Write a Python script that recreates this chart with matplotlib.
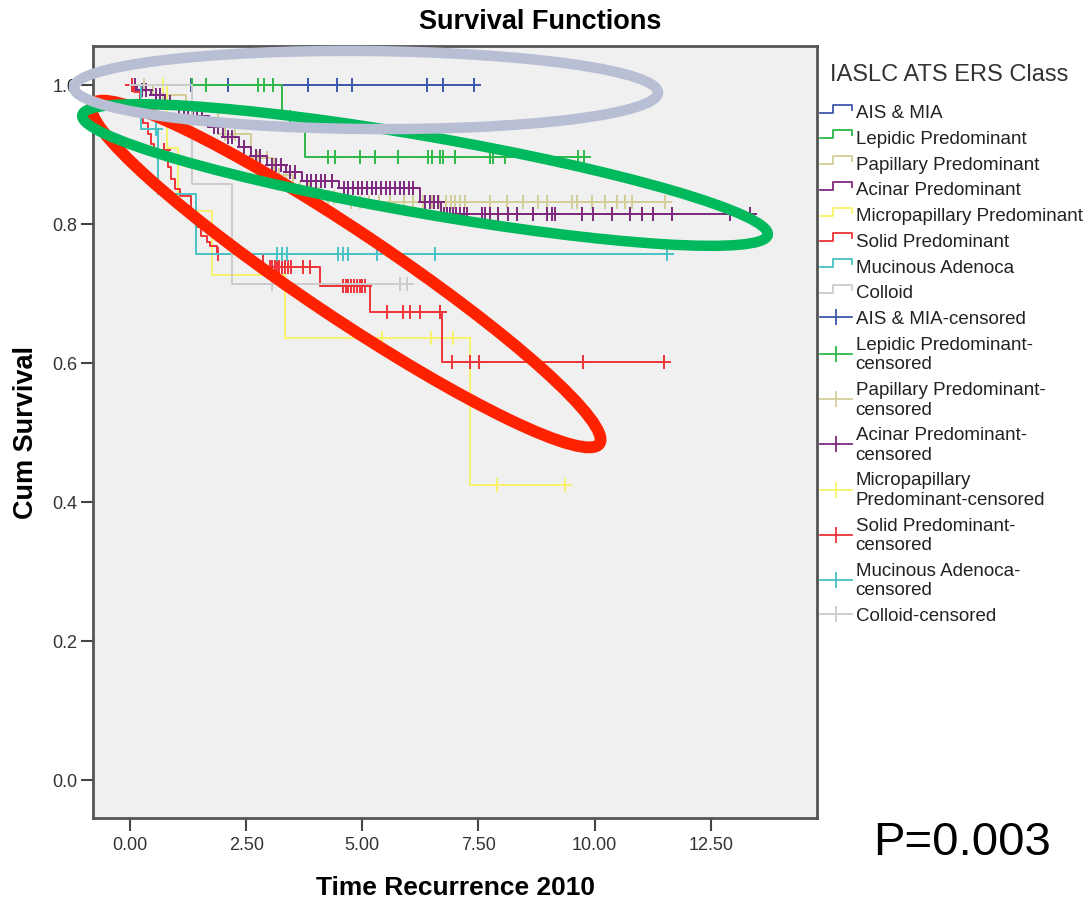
import numpy as np
import matplotlib
matplotlib.use("Agg")
import matplotlib.pyplot as plt
from matplotlib.lines import Line2D
from matplotlib.patches import Ellipse
from matplotlib.legend_handler import HandlerBase

plt.rcParams['font.family'] = ['Liberation Sans', 'DejaVu Sans']

# Kaplan-Meier curves: step times (years), survival after each step,
# and censoring times
groups = ['AIS & MIA', 'Lepidic Predominant', 'Papillary Predominant', 'Acinar Predominant',
          'Micropapillary Predominant', 'Solid Predominant', 'Mucinous Adenoca', 'Colloid']
cens_labels = ['AIS & MIA-censored', 'Lepidic Predominant-\ncensored',
               'Papillary Predominant-\ncensored', 'Acinar Predominant-\ncensored',
               'Micropapillary\nPredominant-censored', 'Solid Predominant-\ncensored',
               'Mucinous Adenoca-\ncensored', 'Colloid-censored']
colors = ['#3e58ac', '#2eb848', '#d3ce97', '#7c287d', '#f8f36a', '#ef3338', '#48c2c5', '#cccccc']

ais_times = [0.0]
ais_surv = [1.0]
ais_cens = [1.3, 2.1, 3.83, 4.46, 4.78, 6.39, 6.74, 7.40]

lep_times = [0.0, 3.27, 3.77]
lep_surv = [1.0, 0.954, 0.896]
lep_cens = [1.33, 1.64, 2.76, 2.89, 3.08, 3.44, 4.26, 4.41, 4.95, 5.27, 5.77, 6.41, 6.50,
            6.67, 6.74, 7.00, 7.75, 7.81, 8.07, 9.64, 9.78]

pap_times = [0.0, 0.5, 1.2, 1.9, 2.6, 3.1, 3.5, 4.1, 4.6]
pap_surv = [1.0, 0.985, 0.965, 0.93, 0.895, 0.87, 0.852, 0.838, 0.832]
pap_cens = [0.3, 0.7, 1.35, 1.55, 2.05, 2.25, 2.75, 2.95, 3.2, 3.35, 3.65, 3.85, 4.25, 4.4,
            4.75, 4.95, 5.15, 5.35, 5.6, 5.9, 6.1, 6.3, 6.5, 6.65, 6.8, 6.9, 7.0, 7.1, 7.2,
            7.75, 8.11, 8.46, 8.78, 8.97, 9.51, 9.62, 9.94, 10.22, 10.48, 10.65, 10.80, 11.51]

aci_times = [0.0, 0.15, 0.45, 0.75, 0.95, 1.45, 1.70, 2.00, 2.35, 2.60, 2.95, 3.35, 3.70,
             4.50, 6.25, 6.70]
aci_surv = [1.0, 0.993, 0.985, 0.975, 0.965, 0.955, 0.940, 0.925, 0.910, 0.897, 0.885, 0.875,
            0.861, 0.852, 0.832, 0.814]
aci_cens = [0.05, 0.1, 0.25, 0.35, 0.55, 0.65, 0.85, 1.05, 1.15, 1.25, 1.35, 1.55, 1.8, 1.9,
            2.1, 2.2, 2.45, 2.7, 2.8, 3.05, 3.15, 3.25, 3.45, 3.55, 3.8, 3.9, 4.0, 4.1, 4.2,
            4.35, 4.6, 4.7, 4.8, 4.9, 5.0, 5.1, 5.2, 5.3, 5.4, 5.5, 5.6, 5.7, 5.8, 5.9, 6.0,
            6.1, 6.35, 6.45, 6.55, 6.62, 6.75, 6.82, 6.88, 6.95, 7.02, 7.1, 7.18, 7.25, 7.58,
            7.65, 7.75, 7.92, 8.14, 8.33, 8.67, 8.98, 9.08, 9.15, 9.73, 9.97, 10.37, 10.76,
            11.02, 11.26, 11.67, 12.91, 13.35]

mic_times = [0.0, 0.80, 1.03, 1.76, 3.34, 7.32]
mic_surv = [1.0, 0.909, 0.818, 0.727, 0.636, 0.424]
mic_cens = [0.70, 5.42, 6.48, 6.95, 7.90, 9.36]

sol_times = [0.0, 0.08, 0.22, 0.28, 0.38, 0.45, 0.52, 0.82, 0.87, 0.97, 1.08, 1.30, 1.42,
             1.52, 1.65, 1.72, 1.88, 2.86, 4.09, 5.17, 6.72]
sol_surv = [1.0, 0.99, 0.965, 0.945, 0.93, 0.915, 0.906, 0.882, 0.865, 0.85, 0.84, 0.817,
            0.795, 0.783, 0.774, 0.768, 0.757, 0.738, 0.711, 0.673, 0.601]
sol_cens = [0.04, 0.60, 0.72, 1.90, 3.01, 3.06, 3.11, 3.16, 3.21, 3.27, 3.34, 3.40, 3.47,
            3.72, 3.87, 4.58, 4.64, 4.70, 4.76, 4.82, 4.88, 4.94, 5.00, 5.06, 5.53, 5.88,
            6.03, 6.24, 6.67, 6.93, 7.32, 7.51, 9.75, 11.50]

muc_times = [0.0, 0.24, 0.60, 1.42]
muc_surv = [1.0, 0.937, 0.843, 0.757]
muc_cens = [0.55, 3.16, 3.27, 3.38, 4.48, 4.58, 4.69, 5.32, 6.56, 11.55]

col_times = [0.0, 1.33, 2.20]
col_surv = [1.0, 0.857, 0.714]
col_cens = [3.06, 5.81, 5.96]

curves = [(ais_times, ais_surv, ais_cens), (lep_times, lep_surv, lep_cens),
          (pap_times, pap_surv, pap_cens), (aci_times, aci_surv, aci_cens),
          (mic_times, mic_surv, mic_cens), (sol_times, sol_surv, sol_cens),
          (muc_times, muc_surv, muc_cens), (col_times, col_surv, col_cens)]

W, H = 1086, 903
fig = plt.figure(figsize=(W / 100, H / 100), dpi=100)
ax = fig.add_axes([93 / W, 1 - 819 / H, (817 - 93) / W, (819 - 47) / H])
ax.set_facecolor('#f0f0f0')

for (times, surv, cens), c in zip(curves, colors):
    times = np.asarray(times)
    surv = np.asarray(surv)
    end = max(cens[-1], times[-1])
    ax.step(np.append(times, end), np.append(surv, surv[-1]), where='post', color=c, lw=1.4)
    idx = np.searchsorted(times, cens, side='right') - 1
    ax.plot(cens, surv[idx], ls='none', marker='+', ms=10, mew=1.4, color=c)

ax.set_xlim(-0.80, 14.79)
ax.set_ylim(-0.055, 1.056)
ax.set_xticks(np.arange(0, 12.6, 2.5))
ax.set_xticklabels([f'{v:.2f}' for v in np.arange(0, 12.6, 2.5)])
ax.set_yticks(np.arange(0, 1.01, 0.2))
ax.set_yticklabels([f'{v:.1f}' for v in np.arange(0, 1.01, 0.2)])
ax.tick_params(direction='out', length=9, width=1.5, color='#444', labelsize=13,
               labelcolor='#333')
ax.tick_params(axis='x', pad=4)
ax.tick_params(axis='y', pad=2)
for sp in ax.spines.values():
    sp.set_color('#555')
    sp.set_linewidth(2)

ax.set_xlabel('Time Recurrence 2010', fontsize=19, fontweight='bold', va='center')
ax.xaxis.set_label_coords(0.501, -0.089)
ax.set_ylabel('Cum Survival', fontsize=19.5, fontweight='bold', va='center')
ax.yaxis.set_label_coords(-0.092, 0.5)
fig.text(0.497, 1 - 22 / H, 'Survival Functions', ha='center', va='center',
         fontsize=19.5, fontweight='bold')


# legend with SPSS-like step icons
class StepProxy(Line2D):
    pass


class StepHandler(HandlerBase):
    def create_artists(self, legend, orig_handle, xdescent, ydescent, width, height,
                       fontsize, trans):
        xs = np.array([0, 0.42, 0.42, 1.0, 1.0]) * width - xdescent
        ys = np.array([0.35, 0.35, 0.96, 0.96, 0.58]) * height - ydescent
        line = Line2D(xs, ys, color=orig_handle.get_color(), lw=1.3)
        line.set_transform(trans)
        return [line]


handles = [StepProxy([], [], color=c) for c in colors]
handles += [Line2D([], [], color=c, lw=1.3, marker='|', ms=12, mew=1.3) for c in colors]
leg = ax.legend(handles, groups + cens_labels, loc='upper left',
                bbox_to_anchor=(820 / W, 1 - 105 / H), bbox_transform=fig.transFigure,
                frameon=False, borderpad=0, borderaxespad=0, handlelength=1.7,
                handletextpad=0.2, labelspacing=0.46, numpoints=1, fontsize=13.5,
                handler_map={StepProxy: StepHandler()})
for t in leg.get_texts():
    t.set_color('#222')
fig.text(949 / W, 1 - 75 / H, 'IASLC ATS ERS Class', ha='center', va='center',
         fontsize=17, color='#333')

fig.text(962 / W, 1 - 843 / H, 'P=0.003', ha='center', va='center', fontsize=34)


# hand-drawn highlight ellipses (positions in pixels of the picture)
def px_ellipse(cx, cy, w, h, angle, color, lw):
    e = Ellipse((cx / 100, (H - cy) / 100), w / 100, h / 100, angle=angle,
                transform=fig.dpi_scale_trans, fill=False, ec=color, lw=lw, zorder=10)
    fig.add_artist(e)


px_ellipse(346, 275, 610, 86, -33.8, '#ff2200', 8.5)
px_ellipse(425, 176, 696, 77, -9.9, '#00b95c', 7.5)
px_ellipse(366, 91, 584, 78, -0.5, '#b8bfd4', 7.5)

fig.savefig('out.png', dpi=100)
